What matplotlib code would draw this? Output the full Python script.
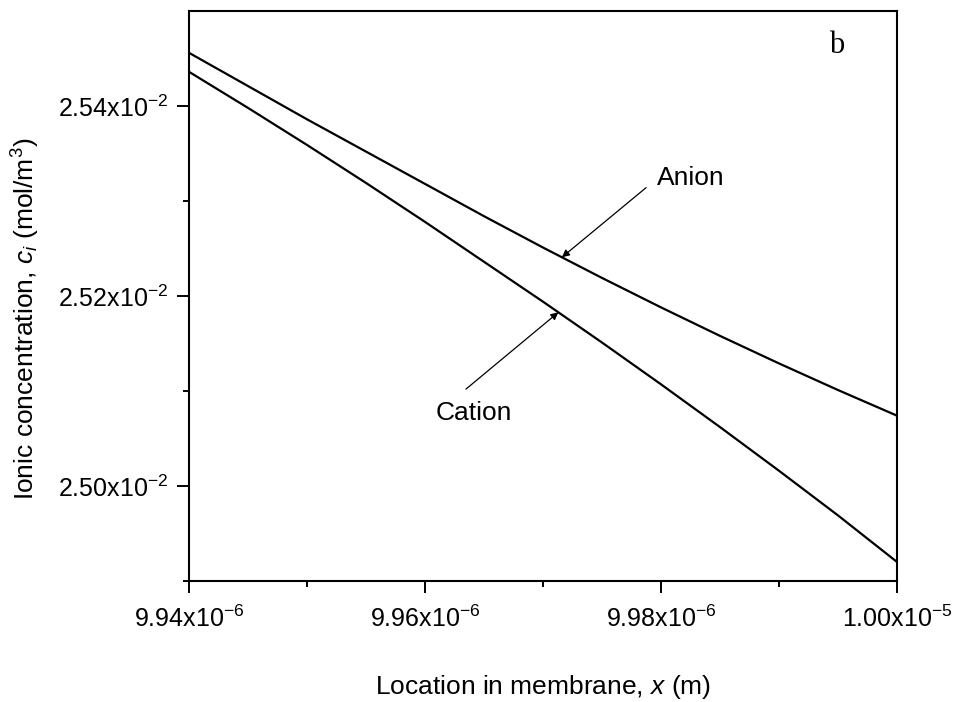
import numpy as np
import matplotlib
matplotlib.use("Agg")
import matplotlib.pyplot as plt
from matplotlib.ticker import FixedLocator

plt.rcParams['font.family'] = ['Liberation Sans', 'DejaVu Sans']
plt.rcParams['mathtext.fontset'] = 'custom'
plt.rcParams['mathtext.rm'] = 'Liberation Sans'
plt.rcParams['mathtext.it'] = 'Liberation Sans:italic'
plt.rcParams['mathtext.bf'] = 'Liberation Sans:bold'

# Location in membrane (m)
x_loc = [9.940e-6, 9.945e-6, 9.950e-6, 9.955e-6, 9.960e-6, 9.965e-6, 9.970e-6,
         9.975e-6, 9.980e-6, 9.985e-6, 9.990e-6, 9.995e-6, 10.000e-6]
# Ionic concentrations (mol/m^3)
anion = [0.025456, 0.025421, 0.025386, 0.025352, 0.025318, 0.025284, 0.025251,
         0.025219, 0.025188, 0.025158, 0.025129, 0.025101, 0.025074]
cation = [0.025436, 0.025398, 0.025359, 0.025319, 0.025278, 0.025236, 0.025194,
          0.025151, 0.025107, 0.025062, 0.025016, 0.024969, 0.024920]

x_ticks = [9.94e-6, 9.96e-6, 9.98e-6, 1.00e-5]
x_tick_labels = [r'9.94x10$^{\mathregular{-6}}$', r'9.96x10$^{\mathregular{-6}}$',
                 r'9.98x10$^{\mathregular{-6}}$', r'1.00x10$^{\mathregular{-5}}$']
y_ticks = [0.0250, 0.0252, 0.0254]
y_tick_labels = [r'2.50x10$^{\mathregular{-2}}$', r'2.52x10$^{\mathregular{-2}}$',
                 r'2.54x10$^{\mathregular{-2}}$']

fig = plt.figure(figsize=(9.6, 7.02), dpi=100)
ax = fig.add_axes([0.1969, 0.1724, 0.7375, 0.8119])

ax.plot(x_loc, anion, color='black', lw=1.6)
ax.plot(x_loc, cation, color='black', lw=1.6)

ax.set_xlim(9.94e-6, 1.00e-5)
ax.set_ylim(0.0249, 0.0255)

ax.xaxis.set_major_locator(FixedLocator(x_ticks))
ax.set_xticklabels(x_tick_labels)
ax.xaxis.set_minor_locator(FixedLocator([9.95e-6, 9.97e-6, 9.99e-6]))
ax.yaxis.set_major_locator(FixedLocator(y_ticks))
ax.set_yticklabels(y_tick_labels)
ax.yaxis.set_minor_locator(FixedLocator([0.0249, 0.0251, 0.0253]))

ax.tick_params(which='major', direction='out', length=8.6, width=1.4, labelsize=18)
ax.tick_params(which='minor', direction='out', length=4.3, width=1.4)
ax.tick_params(axis='x', which='major', pad=9)
ax.tick_params(axis='y', which='major', pad=6)
ax.tick_params(top=False, right=False)
for sp in ax.spines.values():
    sp.set_linewidth(1.5)

ax.set_xlabel(r'Location in membrane, $\mathit{x}$ (m)', fontsize=19, labelpad=30)
ax.set_ylabel(r'Ionic concentration, $\mathit{c}_{\mathit{i}}$ (mol/m$^{\mathregular{3}}$)',
              fontsize=19, labelpad=12)
ax.yaxis.label.set_y(0.46)

# Arrow annotations pointing at the two profiles
xa = 9.9716e-6
ax.annotate('', xy=(xa, np.interp(xa, x_loc, anion)), xytext=(9.97873e-6, 0.025314),
            arrowprops=dict(arrowstyle='-|>', color='black', lw=0.9, mutation_scale=11,
                            shrinkA=0, shrinkB=0))
ax.text(9.97966e-6, 0.025324, 'Anion', fontsize=19, ha='left', va='center')

xc = 9.9713e-6
ax.annotate('', xy=(xc, np.interp(xc, x_loc, cation)), xytext=(9.96347e-6, 0.025102),
            arrowprops=dict(arrowstyle='-|>', color='black', lw=0.9, mutation_scale=11,
                            shrinkA=0, shrinkB=0))
ax.text(9.96415e-6, 0.025077, 'Cation', fontsize=19, ha='center', va='center')

ax.text(0.915, 0.94, 'b', transform=ax.transAxes, fontsize=22,
        family='Liberation Serif', ha='center', va='center')

fig.savefig('out.png', dpi=100)
